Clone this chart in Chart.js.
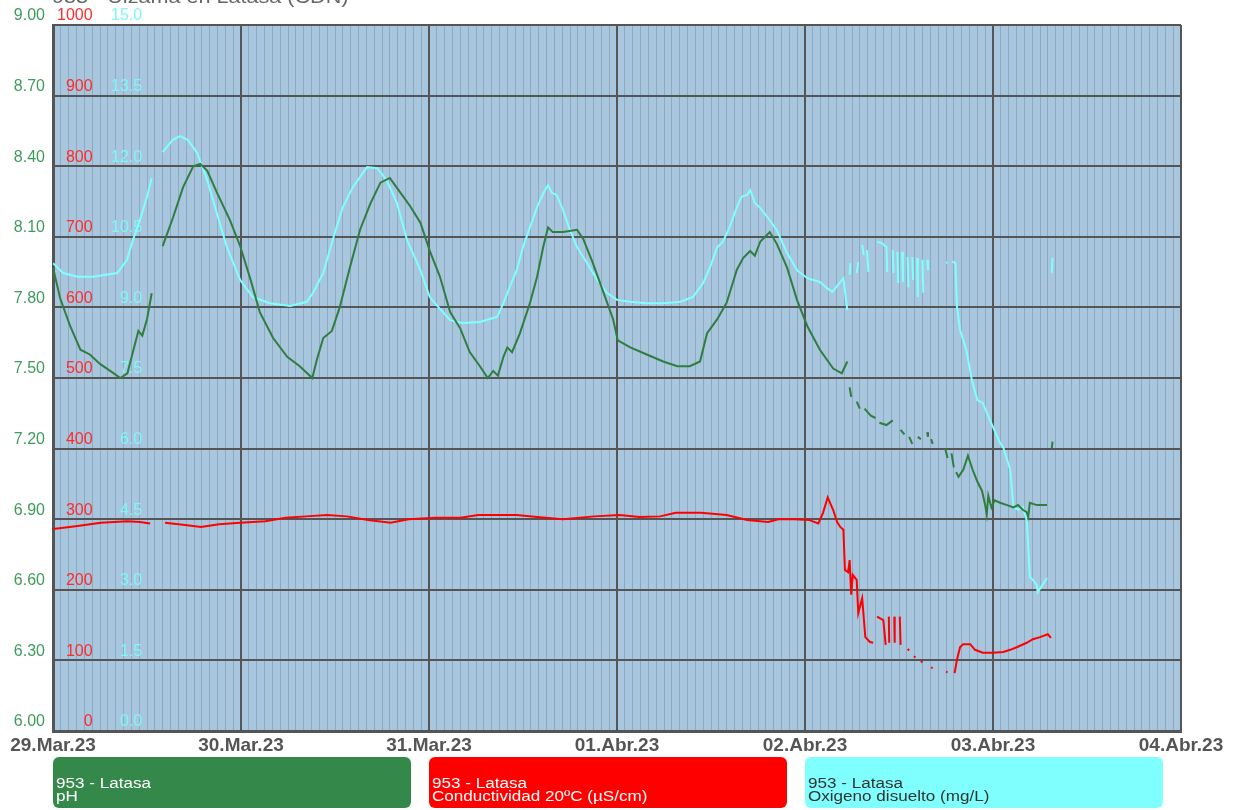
<!DOCTYPE html>
<html>
<head>
<meta charset="utf-8">
<script src="https://cdn.jsdelivr.net/npm/chart.js@4.4.1/dist/chart.umd.min.js"></script>
<style>
  body { margin: 0; background: #fff; font-family: Arial, "Liberation Sans", sans-serif; }
  #wrap { position: relative; width: 1241px; height: 810px; overflow: hidden; }
  #title { position: absolute; left: 52px; top: -13px; font-size: 18px; color: #666; white-space: nowrap;
           transform: scaleX(1.2); transform-origin: left top; }
  .leg { position: absolute; top: 757px; width: 358px; height: 51px; border-radius: 6px; box-sizing: border-box;
         padding: 20px 0 0 3px; font-size: 14px; line-height: 13px; white-space: nowrap; }
  .leg span { display: block; transform: scaleX(1.22); transform-origin: left top; }
</style>
</head>
<body>
<div id="wrap">
  <canvas id="chart" width="1241" height="810"></canvas>
  <div id="title">953 - Ulzama en Latasa (CDN)</div>
  <div id="legend"></div>
</div>
<script>
// =========================
// DATA (hours since 29.Mar.23 00:00)
// =========================

const dayLabels = ["29.Mar.23", "30.Mar.23", "31.Mar.23", "01.Abr.23", "02.Abr.23", "03.Abr.23", "04.Abr.23"];

const seriesNames = ["pH", "Conductividad 20ºC (µS/cm)", "Oxigeno disuelto (mg/L)"];

const phHours = [
  0, 0.9, 2.2, 3.5, 4.7, 6.0, 7.3, 8.6, 9.5, 10.2, 10.9, 11.4, 12.0, 12.6, 13.3,
  14.0, 15.3, 16.6, 17.9, 18.8, 19.7, 20.9, 22.6, 23.9, 25.2, 26.4, 28.1, 29.9, 31.5, 33.1, 33.7, 34.5, 35.6,
  36.6, 37.9, 39.2, 40.5, 41.8, 43.0, 44.3, 45.6, 46.9, 48.1, 49.4, 50.7, 52.0, 53.2, 54.5, 55.5, 56.2, 56.8,
  57.5, 58.0, 58.6, 59.6, 60.9, 61.8, 62.6, 63.2, 63.8, 65.1, 66.9, 67.7, 68.9, 70.2, 71.5, 72.1, 73.7, 75.8,
  77.9, 79.7, 81.3, 82.6, 83.5, 84.8, 86.0, 87.3, 88.1, 89.0, 89.6, 90.3, 91.5, 92.4, 93.7, 95.0, 96.3, 97.9,
  99.6, 100.7, 101.4, 101.55,
  101.7, 101.9, 102.2, 102.6, 103.0, 103.3, 103.6, 104.4, 105.0, 105.2, 105.5, 106.4, 107.2, 107.7,
  108.2, 108.7, 109.0, 109.3, 109.7, 110.0, 110.4, 110.8, 111.2, 111.6, 111.7, 111.9, 112.1, 112.3, 113.0,
  113.9, 114.2, 114.4, 114.7, 115.0, 115.1, 115.3, 115.6, 116.2, 116.8, 117.4, 118.0, 118.6, 119.0, 119.2,
  119.4, 119.8, 120.2, 120.9, 121.8, 122.6, 123.2, 123.8, 124.3, 124.5, 124.7, 125.6, 126.9, 127.2, 127.5, 127.6
];
const phValues = [
  7.97, 7.84, 7.72, 7.62, 7.60, 7.56, 7.53, 7.50, 7.52, 7.61, 7.70, 7.68, 7.75, 7.86, null,
  8.06, 8.18, 8.31, 8.40, 8.41, 8.38, 8.29, 8.17, 8.06, 7.92, 7.78, 7.67, 7.59, 7.55, 7.50, 7.58, 7.67, 7.70,
  7.80, 7.97, 8.13, 8.24, 8.33, 8.35, 8.29, 8.23, 8.16, 8.04, 7.93, 7.78, 7.71, 7.61, 7.55, 7.50, 7.53, 7.51,
  7.59, 7.63, 7.61, 7.69, 7.82, 7.93, 8.06, 8.14, 8.12, 8.12, 8.13, 8.09, 7.99, 7.87, 7.75, 7.66, 7.63, 7.60,
  7.57, 7.55, 7.55, 7.57, 7.69, 7.75, 7.82, 7.96, 8.01, 8.04, 8.02, 8.08, 8.12, 8.07, 7.97, 7.83, 7.72, 7.62,
  7.54, 7.52, 7.57, null,
  7.46, 7.42, null, 7.40, 7.37, null, 7.37, 7.34, 7.33, null, 7.31, 7.30, 7.32, null,
  7.28, 7.26, null, 7.25, 7.22, null, 7.25, 7.24, null, 7.27, 7.25, null, 7.24, 7.22, null,
  7.20, 7.16, null, 7.18, 7.12, null, 7.10, 7.08, 7.11, 7.17, 7.11, 7.06, 7.02, 6.96, 6.92,
  7.00, 6.95, 6.98, 6.97, 6.96, 6.95, 6.96, 6.94, 6.93, 6.91, 6.97, 6.96, 6.96, null, 7.20, 7.23
];

const condHours = [
  0, 2.9, 6.1, 9.5, 11.1, 12.4, 13.3,
  14.3, 16.6, 18.9, 21.2, 23.9, 27.1, 29.7, 32.3, 35.0, 37.5, 40.2, 43.1, 45.4, 48.8, 52.0, 54.3, 56.6, 59.2,
  61.8, 65.1, 69.1, 72.3, 74.9, 77.5, 79.5, 82.7, 86.0, 88.6, 91.3, 92.6, 94.6, 96.5, 97.7, 98.3, 98.9, 99.6,
  100.1, 100.5, 100.9, 101.1, 101.5, 101.7, 101.9, 102.1, 102.6, 102.8, 103.3, 103.7, 104.3, 104.7, 105.0,
  105.2, 106.0, 106.3, 106.5, 106.7, 106.75, 107.0, 107.4, 107.45, 107.8, 108.1, 108.2, 108.4,
  109.1, 109.3, 109.6, 109.9, 110.1, 110.4, 110.8, 111.0, 111.5, 112.1, 112.3, 113.0, 114.0, 114.2, 114.6,
  115.1, 115.4, 115.8, 116.2, 117.1, 117.7, 118.7, 120.0, 121.3, 122.2, 123.1, 124.3, 125.1, 126.0, 127.0, 127.4
];
const condValues = [
  286, 290, 295, 297, 296, 294, null,
  295, 292, 289, 293, 295, 297, 302, 304, 306, 304, 299, 295, 300, 302, 302, 306, 306, 306,
  303, 300, 304, 306, 303, 304, 309, 309, 306, 299, 296, 300, 300, 299, 294, 309, 331, 313,
  296, 289, 285, 228, 225, 242, 193, 221, 214, 167, 188, 133, 126, 125, null,
  162, 157, 122, null, 162, 125, null, 162, 125, null, 162, 122, null,
  116, 114, null, 106, 104, null, 99, 97, null, 90, 89, null, 84, 83, null,
  82, 101, 119, 123, 123, 115, 111, 111, 112, 115, 119, 125, 130, 133, 137, 132
];

const oxyHours = [
  0, 1.3, 3.1, 5.1, 8.2, 9.45, 10.2, 11.1, 12.0, 12.6, 13.3,
  14.0, 15.3, 16.2, 17.2, 18.4, 19.7, 20.9, 22.2, 23.9, 25.5, 27.7, 30.3, 32.4, 33.2, 34.5, 35.7, 37.0, 38.3,
  40.1, 41.4, 42.6, 43.9, 45.2, 46.9, 48.1, 49.4, 50.7, 52.3, 54.5, 56.7, 57.5, 58.3, 59.2, 60.0, 60.9, 61.8,
  62.6, 63.2, 63.7, 64.3, 65.1, 66.0, 66.9, 68.2, 69.5, 70.7, 72.0, 73.7, 75.8, 77.9, 80.1, 81.7, 83.0, 83.9,
  84.8, 85.5, 86.4, 87.3, 87.9, 88.6, 89.0, 89.6, 90.3, 91.2, 92.4, 93.7, 95.0, 96.3, 97.9, 98.8, 99.5, 100.9,
  101.4, 101.55,
  101.7, 101.8, 102.2, 102.6, 102.8, 103.0, 103.3, 103.5, 103.7, 103.9, 104.1, 104.6,
  105.2, 105.8, 106.4, 106.5, 106.8, 107.2, 107.3, 107.5, 107.8, 107.9, 108.1, 108.4, 108.5, 108.8,
  109.1, 109.2, 109.4, 109.7, 109.8, 110.0, 110.3, 110.4, 110.7, 111.0, 111.1, 111.3, 111.6, 111.7, 113.0,
  114.0, 114.2, 114.5, 114.8, 115.2, 115.4, 115.8, 116.6, 117.3, 118.0, 118.7, 119.6, 120.9, 121.3, 122.2,
  122.6, 123.2, 123.8, 124.3, 124.5, 124.7, 125.1, 125.6, 125.7, 126.3, 126.9, 127.2, 127.5, 127.6
];
const oxyValues = [
  9.94, 9.73, 9.65, 9.65, 9.73, 10.01, 10.43, 10.86, 11.35, 11.75, null,
  12.30, 12.56, 12.64, 12.56, 12.28, 11.70, 11.01, 10.28, 9.58, 9.22, 9.09, 9.03, 9.12, 9.31, 9.73, 10.43, 11.13, 11.56,
  11.98, 11.96, 11.70, 11.22, 10.43, 9.79, 9.22, 8.97, 8.73, 8.67, 8.69, 8.80, 9.09, 9.43, 9.79, 10.28, 10.71, 11.13,
  11.43, 11.60, 11.43, 11.39, 11.07, 10.64, 10.28, 9.94, 9.58, 9.31, 9.16, 9.12, 9.09, 9.09, 9.12, 9.22, 9.52, 9.86,
  10.28, 10.39, 10.71, 11.13, 11.35, 11.39, 11.49, 11.22, 11.11, 10.92, 10.64, 10.16, 9.79, 9.62, 9.54, 9.41, 9.33, 9.62,
  8.94, null,
  9.69, 9.94, null, 9.73, 9.96, null, 10.33, 10.11, null, 10.22, 9.75, null,
  10.39, 10.37, 10.28, 9.75, null, 10.22, 9.73, null, 10.18, 9.52, null, 10.18, 9.54, null,
  10.07, 9.43, null, 10.07, 9.58, null, 10.05, 9.22, null, 10.01, 9.31, null, 10.01, 9.79, null,
  9.96, 9.94, null, 9.98, 9.94, 9.01, 8.52, 8.09, 7.46, 7.03, 6.97, 6.61, 6.12, 6.03, 5.55,
  4.76, 4.70, 4.76, 4.48, 3.91, 3.27, 3.21, 3.10, 2.95, 3.10, 3.25, null, 9.73, 10.05
];

// =========================
// HELPERS
// =========================

function toPoints(hours, values) {
  return hours.map((h, i) => ({ x: h, y: values[i] }));
}

// mirrored axes sit on the plot edge and must not push the plot down
function flatAxis(scale) {
  scale.width = 0;
  scale.paddingTop = 0;
  scale.paddingBottom = 0;
}

const plotBackground = {
  id: "plotBackground",
  beforeDraw(chart) {
    const { ctx, chartArea } = chart;
    ctx.save();
    ctx.fillStyle = "#a8c6de";
    ctx.fillRect(chartArea.left, chartArea.top, chartArea.width, chartArea.height);
    ctx.restore();
  },
};

const tickFont = { family: "Arial, 'Liberation Sans', sans-serif", size: 16 };

// =========================
// CHART
// =========================

const chart = new Chart(document.getElementById("chart"), {
  type: "line",
  data: {
    datasets: [
      {
        label: seriesNames[0],
        data: toPoints(phHours, phValues),
        borderColor: "#2f7d3f",
        yAxisID: "y",
      },
      {
        label: seriesNames[1],
        data: toPoints(condHours, condValues),
        borderColor: "#ff0000",
        yAxisID: "yCond",
      },
      {
        label: seriesNames[2],
        data: toPoints(oxyHours, oxyValues),
        borderColor: "#80ffff",
        yAxisID: "yOxy",
      },
    ],
  },
  options: {
    responsive: false,
    animation: false,
    devicePixelRatio: 1,
    spanGaps: false,
    elements: {
      point: { radius: 0 },
      line: { borderWidth: 2, tension: 0 },
    },
    layout: { padding: { top: 25, right: 60, bottom: 0, left: 0 } },
    plugins: {
      legend: { display: false },
      tooltip: { enabled: false },
    },
    scales: {
      x: {
        type: "linear",
        min: 0,
        max: 144,
        afterFit: (scale) => { scale.height = 79; },
        ticks: {
          stepSize: 1,
          autoSkip: false,
          minRotation: 0,
          maxRotation: 0,
          padding: 3,
          color: "#555",
          font: { family: "Arial, 'Liberation Sans', sans-serif", size: 19, weight: "bold" },
          callback: (v) => (Math.round(v) % 24 === 0 ? dayLabels[Math.round(v) / 24] : ""),
        },
        grid: {
          drawTicks: false,
          color: (c) => (c.tick && Math.round(c.tick.value) % 24 === 0 ? "#555" : "#8ea9c0"),
          lineWidth: (c) => (c.tick && Math.round(c.tick.value) % 24 === 0 ? 2 : 1),
        },
        border: { color: "#555", width: 3 },
      },
      y: {
        position: "left",
        weight: 1,
        min: 6,
        max: 9,
        afterFit: (scale) => { scale.width = 53; },
        ticks: {
          count: 11,
          padding: 8,
          labelOffset: -9,
          color: "#3f9b5c",
          font: tickFont,
          callback: (v) => Number(v).toFixed(2),
        },
        grid: { drawTicks: false, color: "#555", lineWidth: 2 },
        border: { color: "#555", width: 3 },
      },
      yCond: {
        position: "left",
        weight: 0,
        min: 0,
        max: 1000,
        afterFit: flatAxis,
        ticks: {
          count: 11,
          mirror: true,
          crossAlign: "far",
          padding: 4,
          labelOffset: -9,
          color: "#ff2b2b",
          font: tickFont,
          callback: (v) => Math.round(v).toString(),
        },
        grid: { display: false },
        border: { display: false },
      },
      yOxy: {
        position: "left",
        weight: 0,
        min: 0,
        max: 15,
        afterFit: flatAxis,
        ticks: {
          count: 11,
          mirror: true,
          crossAlign: "far",
          padding: 58,
          labelOffset: -9,
          color: "#7ff7f7",
          font: tickFont,
          callback: (v) => Number(v).toFixed(1),
        },
        grid: { display: false },
        border: { display: false },
      },
    },
  },
  plugins: [plotBackground],
});

// =========================
// LEGEND
// =========================

const legendColors = ["#34884a", "#ff0000", "#80ffff"];
const legendText = ["#fff", "#fff", "#333"];
const legendLeft = [53, 429, 805];

const legend = document.getElementById("legend");
chart.data.datasets.forEach((ds, i) => {
  const box = document.createElement("div");
  box.className = "leg";
  box.style.left = legendLeft[i] + "px";
  box.style.background = legendColors[i];
  box.style.color = legendText[i];
  box.innerHTML = `<span>953 - Latasa</span><span>${ds.label}</span>`;
  legend.appendChild(box);
});
</script>
</body>
</html>
